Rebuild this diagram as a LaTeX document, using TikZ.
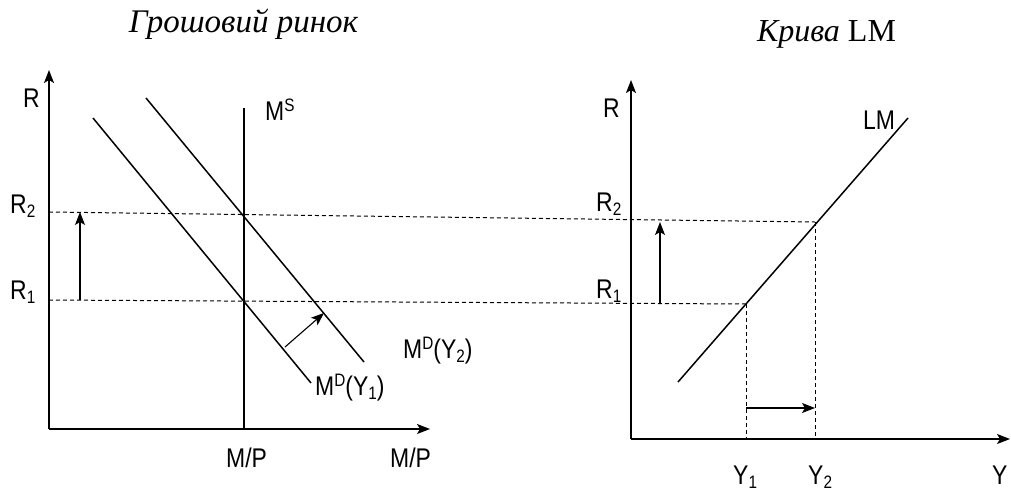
\documentclass[tikz,border=0pt]{standalone}
\usepackage{fontspec}
\setmainfont{Liberation Serif}
\newfontfamily\labfont[FakeStretch=0.85]{Liberation Sans}
\usetikzlibrary{arrows.meta}
\newcommand\mysub[1]{\raisebox{-0.17em}{\fontsize{18}{18}\selectfont #1}}
\newcommand\mysup[1]{\raisebox{0.3em}{\fontsize{18}{18}\selectfont #1}}
\begin{document}
\begin{tikzpicture}[x=1pt,y=-1pt,
  lbl/.style={font=\labfont\fontsize{27}{27}\selectfont, inner sep=0pt, anchor=base west},
  axisline/.style={line width=1.4pt, -{Stealth[length=13pt,width=10pt,inset=3pt]}},
  curve/.style={line width=1.5pt},
  guide/.style={line width=1pt, dash pattern=on 4pt off 3pt},
  movearrow/.style={line width=1.1pt, -{Stealth[length=13pt,width=10pt,inset=3pt]}}]
\useasboundingbox (0,0) rectangle (1011,493);
% titles
\node[inner sep=0pt, anchor=base, font=\fontsize{33}{33}\selectfont] (t1) at (243.5,32) {\itshape Грошовий ринок};
\node[inner sep=0pt, anchor=base, font=\fontsize{32}{32}\selectfont] (t2) at (826.5,41) {\itshape Крива\/ \upshape LM};
% left chart coordinates
\coordinate (O1) at (49,429);
\coordinate (Ytop1) at (49,70);
\coordinate (Xend1) at (430,429);
\coordinate (MStop) at (244,108);
\coordinate (MSbot) at (244,429);
\coordinate (D1a) at (93,118);
\coordinate (D1b) at (311,383);
\coordinate (D2a) at (146,98);
\coordinate (D2b) at (364,362);
\coordinate (Sa) at (285,347);
\coordinate (Sb) at (324,313);
\coordinate (R2L) at (49,212);
\coordinate (R1L) at (49,300);
\coordinate (UpA) at (80,300);
\coordinate (UpB) at (80,212);
% right chart coordinates
\coordinate (O2) at (631,439);
\coordinate (Ytop2) at (631,80);
\coordinate (Xend2) at (1010,439);
\coordinate (LMa) at (678,382);
\coordinate (LMb) at (908,118);
\coordinate (P1) at (746,304);
\coordinate (P2) at (815,222);
\coordinate (Y1b) at (746,439);
\coordinate (Y2b) at (815,439);
\coordinate (HA) at (746,408);
\coordinate (HB) at (815,408);
\coordinate (VA) at (660,304);
\coordinate (VB) at (660,222);
% left chart
\draw[axisline] (O1) -- (Ytop1);
\draw[axisline] (O1) -- (Xend1);
\draw[curve] (MStop) -- (MSbot);
\draw[curve] (D1a) -- (D1b);
\draw[curve] (D2a) -- (D2b);
\draw[movearrow] (Sa) -- (Sb);
\draw[guide] (R2L) -- (P2);
\draw[guide] (R1L) -- (P1);
\draw[movearrow] (UpA) -- (UpB);
% right chart
\draw[axisline] (O2) -- (Ytop2);
\draw[axisline] (O2) -- (Xend2);
\draw[curve] (LMa) -- (LMb);
\draw[guide] (P1) -- (Y1b);
\draw[guide] (P2) -- (Y2b);
\draw[movearrow] (HA) -- (HB);
\draw[movearrow] (VA) -- (VB);
% labels left
\node[lbl] (lR) at (23,107) {R};
\node[lbl] (lR2) at (10,213) {R\mysub{2}};
\node[lbl] (lR1) at (10,299) {R\mysub{1}};
\node[lbl] (lMS) at (265,120) {M\mysup{S}};
\node[lbl] (lMD1) at (315,395) {M\mysup{D}(Y\mysub{1})};
\node[lbl] (lMD2) at (403,358) {M\mysup{D}(Y\mysub{2})};
\node[lbl] (lMP1) at (226,467) {M/P};
\node[lbl] (lMP2) at (390,467) {M/P};
% labels right
\node[lbl] (rR) at (603,117) {R};
\node[lbl] (rR2) at (596,211) {R\mysub{2}};
\node[lbl] (rR1) at (596,298) {R\mysub{1}};
\node[lbl] (rLM) at (863,129) {LM};
\node[lbl] (rY1) at (733,484) {Y\mysub{1}};
\node[lbl] (rY2) at (808,484) {Y\mysub{2}};
\node[lbl] (rY) at (992,484) {Y};
\end{tikzpicture}
\end{document}
